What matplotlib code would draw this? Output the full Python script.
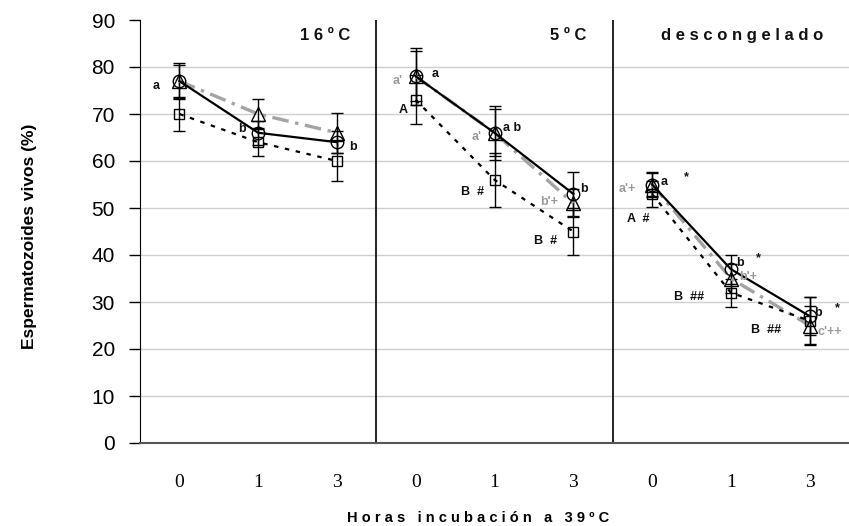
import matplotlib
matplotlib.use("Agg")
import matplotlib.pyplot as plt

# storage condition panels and hours of incubation at 39ºC inside each one
panels = ["1 6 º C", "5 º C", "d e s c o n g e l a d o"]
hours = ["0", "1", "3"]

# % live spermatozoa, 9 points = 3 panels x 3 hours
circ = [77, 66, 64, 78, 66, 53, 55, 37, 27]
circ_err = [3.8, 2.5, 2.3, 6.0, 5.8, 4.7, 2.7, 3.1, 4.1]
tri = [77, 70, 66, 78, 66, 51, 55, 35, 25]
tri_err = [3.5, 3.2, 4.2, 5.3, 5.0, 3.0, 2.5, 3.0, 4.1]
sq = [70, 64, 60, 73, 56, 45, 53, 32, 26]
sq_err = [3.6, 3.0, 4.3, 5.2, 5.7, 5.0, 2.7, 3.0, 5.0]

# significance letters: (x, y, text, colour)
BLK = "#111111"
GRY = "#9a9a9a"
letters = [
    (-0.29, 76.0, "a", BLK), (0.79, 66.8, "b", BLK), (2.20, 62.9, "b", BLK),
    (3.25, 78.5, "a", BLK), (2.77, 77.0, "a'", GRY), (2.84, 70.9, "A", BLK),
    (4.22, 67.0, "a b", BLK), (3.77, 65.1, "a'", GRY), (3.72, 53.4, "B  #", BLK),
    (5.13, 54.0, "b", BLK), (4.69, 51.3, "b'+", GRY), (4.65, 43.0, "B  #", BLK),
    (5.68, 54.0, "a'+", GRY), (6.15, 55.5, "a", BLK), (6.44, 56.6, "*", BLK),
    (5.82, 47.7, "A  #", BLK), (7.12, 38.3, "b", BLK), (7.35, 39.4, "*", BLK),
    (7.22, 35.3, "b'+", GRY), (6.47, 31.1, "B  ##", BLK), (8.11, 27.7, "b", BLK),
    (8.35, 28.7, "*", BLK), (7.45, 24.0, "B  ##", BLK), (8.26, 23.6, "c'++", GRY),
]

SANS = ["Liberation Sans", "DejaVu Sans"]

fig = plt.figure(figsize=(8.49, 5.26), dpi=100)
ax = fig.add_axes([140 / 849, 1 - 443 / 526, 709 / 849, 423 / 526])

x = list(range(9))
for v in range(10, 90, 10):
    ax.axhline(v, color="#cfcfcf", lw=1, zorder=0)
for b in (2.5, 5.5):
    ax.axvline(b, color="black", lw=1.2, zorder=1)

# each panel is drawn on its own so lines don't join across conditions
for p in range(3):
    s = slice(3 * p, 3 * p + 3)
    xs = x[s]
    for vals, errs in ((tri, tri_err), (sq, sq_err), (circ, circ_err)):
        ax.errorbar(xs, vals[s], yerr=errs[s], fmt="none", ecolor="black",
                    elinewidth=1, capsize=4, capthick=1, zorder=2)
    ax.plot(xs, tri[s], color="#a3a3a3", lw=2.4, ls=(0, (5, 2, 1, 2)),
            marker="^", ms=9.5, mfc="none", mec="black", mew=1, zorder=3)
    ax.plot(xs, sq[s], color="black", lw=1.6, ls=(0, (2, 3)),
            marker="s", ms=7.5, mfc="none", mec="black", mew=1, zorder=4)
    ax.plot(xs, circ[s], color="black", lw=1.6, ls="-",
            marker="o", ms=9, mfc="none", mec="black", mew=1, zorder=5)
    ax.text(3 * p + 2.17, 86.7, panels[p], ha="right", va="center",
            fontsize=12, fontweight="bold", color=BLK, family=SANS)

for lx, ly, t, c in letters:
    ax.text(lx, ly, t, ha="center", va="center", fontsize=9,
            fontweight="bold", color=c, zorder=6, family=SANS)

ax.set_xlim(-0.5, 8.5)
ax.set_ylim(0, 90)
ax.set_xticks(x)
ax.set_xticklabels(hours * 3, family="Liberation Serif", fontsize=14)
ax.tick_params(axis="x", length=0, pad=22)
ax.set_yticks(range(0, 91, 10))
ax.tick_params(axis="y", length=8, width=1, pad=10, labelsize=15, direction="out")
for lab in ax.get_yticklabels():
    lab.set_family(SANS)

ax.spines["top"].set_visible(False)
ax.spines["right"].set_visible(False)
ax.spines["left"].set_color("black")
ax.spines["bottom"].set_color("#555555")
ax.spines["bottom"].set_linewidth(1.5)

fig.text(478 / 849, 1 - 518 / 526, "H o r a s   i n c u b a c i ó n   a   3 9 º C",
         ha="center", va="center", fontsize=10.5, fontweight="bold", family=SANS)
fig.text(30 / 849, 1 - 236 / 526, "Espermatozoides vivos (%)", rotation=90,
         ha="center", va="center", fontsize=12.5, fontweight="bold", family=SANS)

fig.savefig("out.png", dpi=100, facecolor="white")
